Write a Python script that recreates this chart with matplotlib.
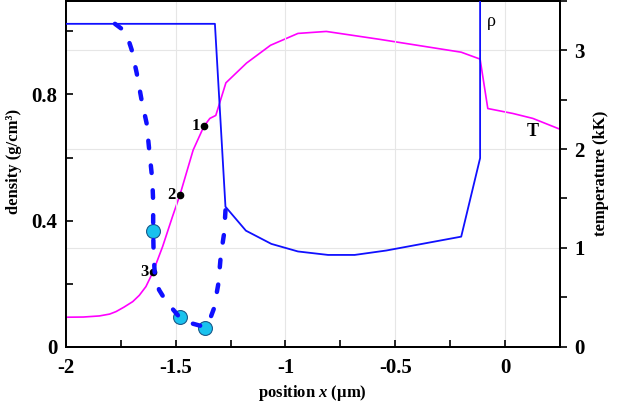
import matplotlib
matplotlib.use("Agg")
import matplotlib.pyplot as plt
from matplotlib.ticker import MultipleLocator

plt.rcParams['font.family'] = ['Liberation Serif', 'DejaVu Serif']
plt.rcParams['mathtext.fontset'] = 'custom'
plt.rcParams['mathtext.it'] = 'Liberation Serif:italic:bold'
plt.rcParams['mathtext.rm'] = 'Liberation Serif:bold'

# density profile (solid)
rho_x = [-2.0, -1.321, -1.273, -1.18, -1.064, -0.943, -0.806, -0.685, -0.541, -0.2, -0.114, -0.114]
rho_y = [1.024, 1.024, 0.444, 0.368, 0.326, 0.302, 0.291, 0.291, 0.305, 0.349, 0.598, 1.5]

# density profile (dashed)
dash_x = [-1.776, -1.745, -1.72, -1.70, -1.677, -1.655, -1.632, -1.62, -1.606, -1.602,
          -1.602, -1.600, -1.594, -1.575, -1.552, -1.52, -1.484, -1.427, -1.37, -1.35,
          -1.325, -1.305, -1.294, -1.279, -1.271]
dash_y = [1.024, 1.008, 0.985, 0.942, 0.868, 0.783, 0.709, 0.624, 0.53, 0.46,
          0.368, 0.296, 0.222, 0.18, 0.154, 0.125, 0.095, 0.074, 0.063, 0.075,
          0.122, 0.201, 0.291, 0.36, 0.455]

# highlighted circles
circ_x = [-1.602, -1.48, -1.367]
circ_y = [0.368, 0.093, 0.06]

# temperature profile
T_x = [-2.0, -1.92, -1.847, -1.80, -1.771, -1.735, -1.695, -1.665, -1.635, -1.602, -1.559,
       -1.514, -1.48, -1.42, -1.371, -1.344, -1.317, -1.271, -1.177, -1.068, -0.943,
       -0.814, -0.571, -0.2, -0.114, -0.079, 0.035, 0.126, 0.25]
T_y = [0.298, 0.300, 0.311, 0.33, 0.355, 0.40, 0.456, 0.52, 0.608, 0.76, 1.013,
       1.317, 1.537, 1.99, 2.23, 2.31, 2.34, 2.67, 2.87, 3.05, 3.17,
       3.19, 3.11, 2.98, 2.91, 2.41, 2.36, 2.31, 2.20]

# numbered points on T curve
pt_x = [-1.371, -1.48, -1.602]
pt_T = [2.23, 1.537, 0.76]
pt_lab = ['1', '2', '3']

fig = plt.figure(figsize=(6.23, 4.05), dpi=100)
ax = fig.add_axes([0.1055, 0.144, 0.7935, 0.854])
ax2 = ax.twinx()
ax.set_zorder(ax2.get_zorder() + 1)
ax.patch.set_visible(False)

blue = '#1010ff'
mag = '#ff00ff'

ax2.plot(T_x, T_y, color=mag, lw=1.2)
ax2.plot(pt_x, pt_T, 'o', color='black', ms=4.5, zorder=5)
for x, t, l in zip(pt_x, pt_T, pt_lab):
    ax2.annotate(l, (x, t), xytext=(-3, 0), textcoords='offset points',
                 ha='right', va='center', fontsize=12, fontweight='bold')
ax2.text(0.125, 2.18, 'T', fontsize=13, fontweight='bold', ha='center', va='center')

ax.plot(rho_x, rho_y, color=blue, lw=1.3, zorder=3)
ax.plot(circ_x, circ_y, 'o', color='#19c2ee', mec='#1a5a8a', mew=0.8, ms=10, zorder=3)
ax.plot(dash_x, dash_y, color=blue, lw=3.2, ls=(0, (1.7, 3.9)),
        dash_capstyle='round', zorder=4)
ax.text(-0.064, 1.032, 'ρ', fontsize=13, ha='center', va='center')

ax.set_xlim(-2, 0.25)
ax.set_ylim(0, 1.097)
ax2.set_ylim(0, 3.5)

ax.xaxis.set_major_locator(MultipleLocator(0.5))
ax.xaxis.set_minor_locator(MultipleLocator(0.25))
ax.yaxis.set_major_locator(MultipleLocator(0.4))
ax.yaxis.set_minor_locator(MultipleLocator(0.2))
ax2.yaxis.set_major_locator(MultipleLocator(1))
ax2.yaxis.set_minor_locator(MultipleLocator(0.5))

ax.xaxis.set_major_formatter(plt.FuncFormatter(lambda v, p: ('%g' % v) if v != 0 else '0'))
ax.yaxis.set_major_formatter(plt.FuncFormatter(lambda v, p: ('%g' % v) if v != 0 else '0'))

ax.tick_params(axis='both', which='both', direction='in', length=5, width=1.2,
               labelsize=15, top=False, right=False)
ax.tick_params(axis='x', pad=8)
ax.tick_params(axis='y', pad=6)
ax2.tick_params(axis='y', which='both', direction='out', length=5, width=1.2,
                labelsize=15, pad=5)
for t in ax.get_xticklabels() + ax.get_yticklabels() + ax2.get_yticklabels():
    t.set_fontweight('bold')

ax.grid(True, axis='x', which='major', color='#e6e6e6', lw=0.8)
ax2.grid(True, axis='y', which='major', color='#e6e6e6', lw=0.8)
ax.set_axisbelow(True)
ax2.set_axisbelow(True)

for sp in list(ax.spines.values()) + list(ax2.spines.values()):
    sp.set_linewidth(1.4)

ax.set_xlabel('position $x$ (µm)', fontsize=12, fontweight='bold', labelpad=4)
ax.set_ylabel('density (g/cm³)', fontsize=12, fontweight='bold')
ax.yaxis.set_label_coords(-0.088, 0.537)
ax2.set_ylabel('temperature (kK)', fontsize=12, fontweight='bold', labelpad=6)

fig.savefig('out.png', dpi=100)
